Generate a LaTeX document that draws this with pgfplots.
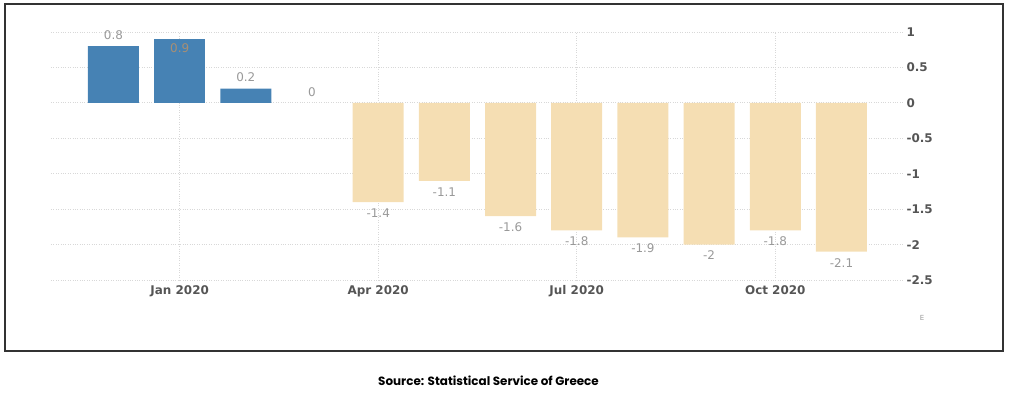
\documentclass[border=0pt]{standalone}
\usepackage{pgfplots}
\pgfplotsset{compat=1.18}
\usepackage{fontspec}
\setmainfont{DejaVu Sans}
\newfontfamily\srcfont{Poppins}
\definecolor{barblue}{HTML}{4682B4}
\definecolor{barbeige}{HTML}{F5DEB3}
\definecolor{lblgray}{HTML}{999999}
\definecolor{tickgray}{HTML}{555555}
\definecolor{gridgray}{HTML}{D8D8D8}
\begin{document}
\begin{tikzpicture}[x=1bp,y=1bp]
\path[use as bounding box] (-51,-116) rectangle (973,280);
\draw[line width=1.6bp, black!80] (-46,-71) rectangle (952,276);
\begin{axis}[at={(0,0)}, anchor=south west, scale only axis,
  width=852bp, height=248bp,
  xmin=-0.944, xmax=11.93, ymin=-2.5, ymax=1,
  axis line style={draw=none}, tick style={draw=none},
  xtick={1,4,7,10}, xticklabels={Jan 2020,Apr 2020,Jul 2020,Oct 2020},
  ytick={-2.5,-2,-1.5,-1,-0.5,0,0.5,1},
  yticklabels={-2.5,-2,-1.5,-1,-0.5,0,0.5,1},
  yticklabel pos=right,
  xticklabel style={font=\fontsize{12}{14}\selectfont\bfseries, text=tickgray, yshift=2bp},
  yticklabel style={font=\fontsize{12}{14}\selectfont\bfseries, text=tickgray, anchor=west, xshift=0bp},
  xmajorgrids, ymajorgrids,
  major grid style={gridgray, dotted, line width=0.9bp},
  ybar, bar width=51bp, bar shift=0pt,
  point meta=explicit symbolic,
  nodes near coords,
  every node near coord/.append style={font=\fontsize{12}{14}\selectfont, text=lblgray},
  clip=false,
]
\addplot[fill=barblue, draw=none, every node near coord/.append style={anchor=south, yshift=3bp}]
  coordinates {(0,0.8) [0.8] (2,0.2) [0.2]};
\addplot[fill=barblue, draw=none, every node near coord/.append style={anchor=north, text=lblgray!60!brown, yshift=-1bp}]
  coordinates {(1,0.9) [0.9]};
\addplot[fill=none, draw=none, every node near coord/.append style={anchor=south, yshift=3bp}]
  coordinates {(3,0) [0]};
\addplot[fill=barbeige, draw=none, every node near coord/.append style={anchor=north, yshift=-3bp}]
  coordinates {(4,-1.4) [-1.4] (5,-1.1) [-1.1] (6,-1.6) [-1.6] (7,-1.8) [-1.8]
   (8,-1.9) [-1.9] (9,-2) [-2] (10,-1.8) [-1.8] (11,-2.1) [-2.1]};
\end{axis}
\node[font=\fontsize{7}{8}\selectfont, text=lblgray] at (871,-38) {E};
\node[font=\srcfont\fontsize{12}{14}\selectfont\bfseries] at (437.5,-101) {Source: Statistical Service of Greece};
\end{tikzpicture}
\end{document}
